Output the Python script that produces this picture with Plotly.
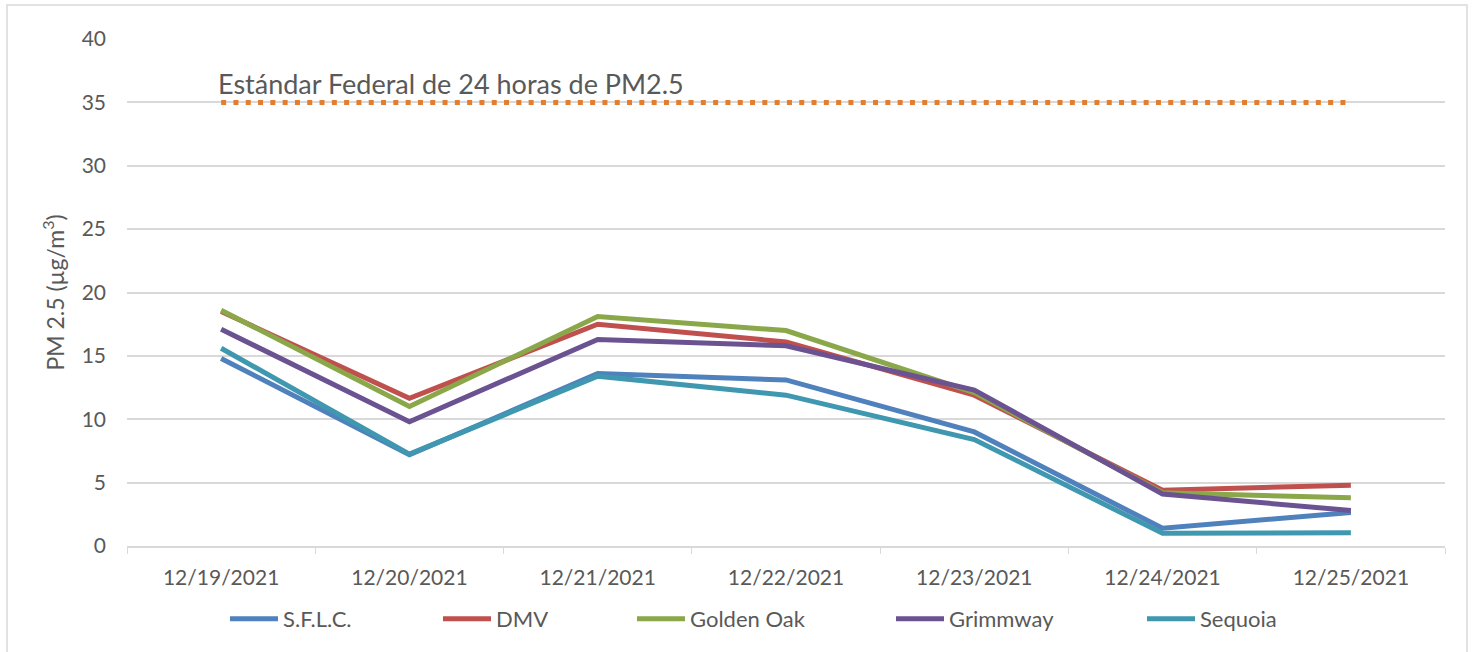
import plotly.graph_objects as go

dates = ["12/19/2021", "12/20/2021", "12/21/2021", "12/22/2021", "12/23/2021", "12/24/2021", "12/25/2021"]
sflc = [14.8, 7.2, 13.6, 13.1, 9.0, 1.4, 2.65]
dmv = [18.5, 11.65, 17.5, 16.1, 11.9, 4.4, 4.8]
golden_oak = [18.6, 11.0, 18.1, 17.0, 12.1, 4.2, 3.8]
grimmway = [17.1, 9.8, 16.3, 15.8, 12.3, 4.1, 2.8]
sequoia = [15.6, 7.25, 13.4, 11.9, 8.4, 1.0, 1.05]
standard = [35, 35, 35, 35, 35, 35, 35]
standard_label = "Estándar Federal de 24 horas de PM2.5"

series = [
    ("S.F.L.C.", sflc, "#4F81BD"),
    ("DMV", dmv, "#C0504D"),
    ("Golden Oak", golden_oak, "#8AA74A"),
    ("Grimmway", grimmway, "#6B5291"),
    ("Sequoia", sequoia, "#3F97B0"),
]

FONT = "Lato"
TXT = "#595959"

W, H = 1473, 652
L, T = 127, 39
plot_right, plot_bottom = 1445, 546
R = W - plot_right
B = H - plot_bottom
pw, ph = W - L - R, H - T - B

fig = go.Figure()
fig.add_trace(go.Scatter(x=dates, y=standard, mode="lines", showlegend=False,
                         line=dict(color="#E37E31", width=5, dash="5px,7.3px"),
                         hoverinfo="skip"))

ITEMW = 48
legend_text_px = [283, 496, 690, 949, 1200]  # x where legend texts start
legend_layouts = {}
for i, (name, vals, col) in enumerate(series):
    lg = "legend" if i == 0 else f"legend{i+1}"
    fig.add_trace(go.Scatter(x=dates, y=vals, mode="lines", name=name,
                             line=dict(color=col, width=5), legend=lg))
    lx = legend_text_px[i] - (ITEMW + 10)
    legend_layouts[lg] = dict(
        x=(lx - L) / pw, xanchor="left",
        y=-73 / ph, yanchor="middle",
        orientation="h", bgcolor="rgba(0,0,0,0)",
        font=dict(family=FONT, size=22, color=TXT),
        itemwidth=ITEMW, tracegroupgap=0,
    )

fig.add_annotation(x=dates[0], y=35, xref="x", yref="y", text=standard_label,
                   showarrow=False, xanchor="left", yanchor="bottom", xshift=-5, yshift=0,
                   font=dict(family=FONT, size=27, color=TXT))

fig.add_shape(type="rect", xref="paper", yref="paper",
              x0=(7 - L) / pw, x1=(1467 - L) / pw,
              y0=(plot_bottom - 670) / ph, y1=(plot_bottom - 5) / ph,
              line=dict(color="#D9D9D9", width=1.5), fillcolor="rgba(0,0,0,0)", layer="below")

fig.update_layout(
    width=W, height=H,
    margin=dict(l=L, r=R, t=T, b=B, autoexpand=False),
    paper_bgcolor="white", plot_bgcolor="white",
    font=dict(family=FONT, color=TXT),
    **legend_layouts,
)
fig.update_xaxes(type="category", range=[-0.5, 6.5], showgrid=False, zeroline=False,
                 showline=True, linecolor="#D9D9D9", linewidth=1.5,
                 ticks="outside", tickson="boundaries", ticklen=6, tickcolor="#D9D9D9",
                 tickfont=dict(family=FONT, size=21, color=TXT), ticklabelstandoff=12)
fig.update_yaxes(range=[0, 40], dtick=5, showgrid=True, gridcolor="#D9D9D9", gridwidth=1.5,
                 zeroline=False, showline=False, ticks="",
                 tickfont=dict(family=FONT, size=21, color=TXT), ticklabelstandoff=20,
                 title=dict(text="PM 2.5 (µg/m<sup>3</sup>)", standoff=10,
                            font=dict(family=FONT, size=23, color=TXT)))

fig.write_html("out.html", config={"displayModeBar": False},
               post_script="document.body.style.margin='0';document.body.style.overflow='hidden';")
